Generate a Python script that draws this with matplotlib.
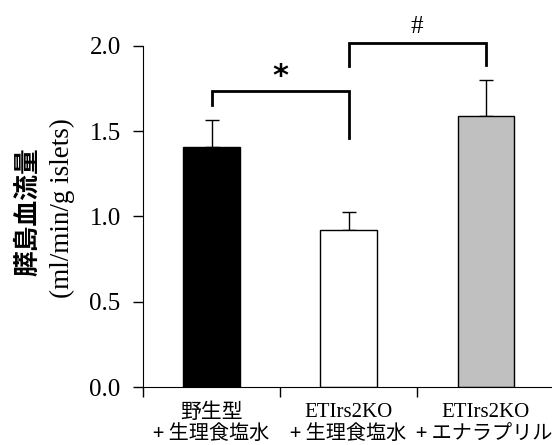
import matplotlib

matplotlib.use("Agg")
import matplotlib.pyplot as plt
import numpy as np

SERIF = ["Liberation Serif", "DejaVu Serif"]
JP = ["Noto Sans CJK JP", "DejaVu Sans"]

# group labels: first line, second line
group_line1 = ["野生型", "ETIrs2KO", "ETIrs2KO"]
group_line2 = ["+ 生理食塩水", "+ 生理食塩水", "+ エナラプリル"]
means = [1.41, 0.92, 1.59]
sems = [0.155, 0.105, 0.21]
bar_colors = ["#000000", "#ffffff", "#c0c0c0"]

# significance brackets: (left group, right group, bar height, left leg end, right leg end, mark)
brackets = [
    (0, 1, 1.735, 1.655, 1.46, "*"),
    (1, 2, 2.015, 1.88, 1.89, "#"),
]
y_ticks = [0.0, 0.5, 1.0, 1.5, 2.0]

fig = plt.figure(figsize=(5.52, 4.45), dpi=100)
ax = fig.add_axes([0.259, 0.130, 0.745, 0.767])

x = np.arange(len(means))
ax.bar(x, means, width=0.41, color=bar_colors, edgecolor="black", linewidth=1.0, zorder=2)
ax.errorbar(
    x, means, yerr=[np.zeros(len(sems)), sems], fmt="none",
    ecolor="black", elinewidth=1.0, capsize=5, capthick=1.0, zorder=1,
)

for left, right, top, left_end, right_end, mark in brackets:
    ax.plot([left, left, right, right], [left_end, top, top, right_end],
            color="black", linewidth=2.0, clip_on=False, solid_joinstyle="miter")
    if mark == "*":
        ax.text((left + right) / 2, top + 0.0, mark, ha="center", va="bottom",
                fontsize=22, fontweight="bold", family=["DejaVu Sans"], clip_on=False)
    else:
        ax.text((left + right) / 2, top + 0.03, mark, ha="center", va="bottom",
                fontsize=18, family=SERIF, clip_on=False)

ax.set_xlim(-0.5, 2.5)
ax.set_ylim(0, 2.0)
ax.set_yticks(y_ticks)
ax.set_yticklabels([f"{v:.1f}" for v in y_ticks], family=SERIF, fontsize=18)
ax.set_xticks([-0.5, 0.5, 1.5, 2.5])
ax.set_xticklabels([])
ax.tick_params(axis="both", direction="out", length=7, width=1.0)
ax.tick_params(axis="y", pad=9)
ax.spines["top"].set_visible(False)
ax.spines["right"].set_visible(False)

xform = ax.get_xaxis_transform()
for i, (l1, l2) in enumerate(zip(group_line1, group_line2)):
    fam1 = JP if not l1.isascii() else SERIF
    ax.text(i, -0.074, l1, transform=xform, ha="center", va="center",
            fontsize=15, family=fam1)
    ax.text(i - 0.01 * (i == 2), -0.137, l2, transform=xform, ha="center", va="center",
            fontsize=14.5, family=JP)

fig.text(0.05, 0.525, "膵島血流量", rotation=90, ha="center", va="center",
         fontsize=18.5, fontweight="bold", family=JP)
fig.text(0.114, 0.533, "(ml/min/g islets)", rotation=90, ha="center", va="center",
         fontsize=19.5, family=SERIF)

fig.savefig("out.png", dpi=100)
